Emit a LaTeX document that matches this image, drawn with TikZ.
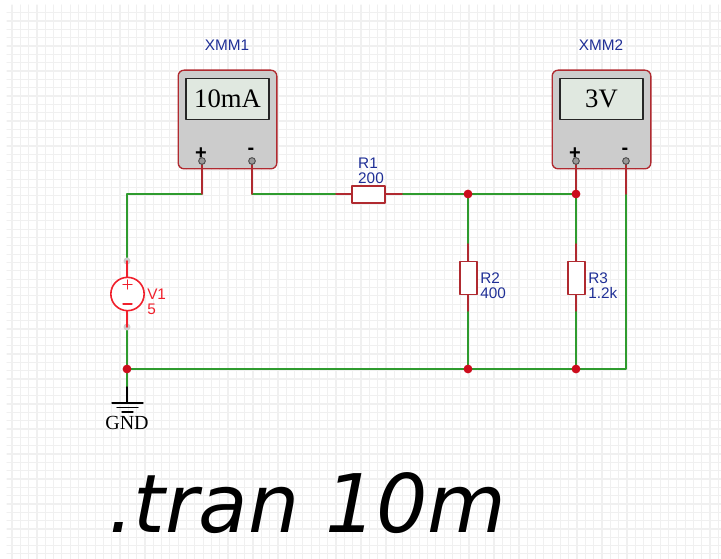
\documentclass[tikz,border=0pt]{standalone}
\usepackage{fontspec}
\setmainfont{Liberation Serif}
\setsansfont{Liberation Sans}
\newfontfamily\tranfont{DejaVu Sans}
\definecolor{wiregreen}{HTML}{2E9B2E}
\definecolor{partred}{HTML}{B02A30}
\definecolor{dotred}{HTML}{CC0C1C}
\definecolor{labelblue}{HTML}{1F2F96}
\definecolor{srcred}{HTML}{F0202C}
\definecolor{gridgray}{HTML}{F0F0F0}
\definecolor{screenfill}{HTML}{E0E8E0}
\tikzset{
	wire/.style={draw=wiregreen, line width=1.5pt*0.75},
	lead/.style={draw=partred, line width=1.5pt*0.75},
	meterbox/.style={draw=partred, fill=black!20, rounded corners=4.5pt, line width=1pt, minimum width=74pt, minimum height=74pt, inner sep=0pt},
	meterscreen/.style={draw=black!85, fill=screenfill, line width=1.2pt, minimum width=62.5pt, minimum height=31pt, inner sep=0pt, font=\rmfamily\fontsize{20}{20}\selectfont},
	resbox/.style={draw=partred, fill=white, line width=1.2pt, inner sep=0pt},
	namelabel/.style={text=labelblue, font=\sffamily\fontsize{11.5}{11.2}\selectfont, inner sep=0pt, align=left},
	termhole/.style={circle, draw=black!70, fill=black!40, line width=0.7pt, minimum size=5pt, inner sep=0pt},
	sign/.style={inner sep=0pt, font=\sffamily\bfseries\fontsize{15}{15}\selectfont}
}
\begin{document}
\begin{tikzpicture}[x=0.75pt, y=-0.75pt, line join=round, line cap=round]
	\useasboundingbox (0,0) rectangle (721,559);
	% grid
	\foreach \i in {0,...,85}{\draw[gridgray, line width=0.9pt](12+8.31*\i,5)--(12+8.31*\i,559);}
	\foreach \i in {0,...,65}{\draw[gridgray, line width=0.9pt](7,12.7+8.326*\i)--(721,12.7+8.326*\i);}
	\path
	(127,194) coordinate (TL)
	(202,194) coordinate (P1)
	(252,194) coordinate (M1)
	(336,194) coordinate (R1a)
	(402,194) coordinate (R1b)
	(468,194) coordinate (J1)
	(576,194) coordinate (J2)
	(626,194) coordinate (M2)
	(202,161) coordinate (T1)
	(252,161) coordinate (T2)
	(576,161) coordinate (T3)
	(626,161) coordinate (T4)
	(468,244) coordinate (R2a)
	(468,311) coordinate (R2b)
	(576,244) coordinate (R3a)
	(576,311) coordinate (R3b)
	(127,261) coordinate (V1a)
	(127,327) coordinate (V1b)
	(127,369) coordinate (B0)
	(468,369) coordinate (B1)
	(576,369) coordinate (B2)
	(626,369) coordinate (B3)
	(127,387) coordinate (G0)
	(127,403) coordinate (G1)
	(112,403) coordinate (G1l)
	(143,403) coordinate (G1r)
	(117,407.5) coordinate (G2l)
	(138,407.5) coordinate (G2r)
	(122,412) coordinate (G3l)
	(133,412) coordinate (G3r);
	% meters
	\node[meterbox] (XMM1) at (227.5,119.5) {};
	\node[meterbox] (XMM2) at (601.5,119.5) {};
	\node[meterscreen] (S1) at (227.5,99) {10mA};
	\node[meterscreen] (S2) at (601.5,99) {3V};
	\node[namelabel] (L1) at (227,45) {XMM1};
	\node[namelabel] (L2) at (601,45) {XMM2};
	\node[sign] (P1s) at (201,154) {+};
	\node[sign] (M1s) at (251,151) {-};
	\node[sign] (P2s) at (575,154) {+};
	\node[sign] (M2s) at (625,151) {-};
	% wires
	\draw[wire](T1)--(P1)--(TL)--(V1a);
	\draw[wire](M1)--(R1a);
	\draw[wire](R1b)--(J2)--(R3a);
	\draw[wire](J1)--(R2a);
	\draw[wire](R2b)--(B1);
	\draw[wire](R3b)--(B2);
	\draw[wire](V1b)--(B0)--(B3)--(M2);
	\draw[wire](B0)--(G0);
	% red leads of the parts
	\draw[lead](T1)--(P1);
	\draw[lead](T2)--(M1);
	\draw[lead](T3)--(J2);
	\draw[lead](T4)--(M2);
	\draw[lead](R1a)--(R1b);
	\draw[lead](R2a)--(R2b);
	\draw[lead](R3a)--(R3b);
	\node[termhole] (H1) at (T1) {};
	\node[termhole] (H2) at (T2) {};
	\node[termhole] (H3) at (T3) {};
	\node[termhole] (H4) at (T4) {};
	% resistors
	\node[resbox, minimum width=25pt, minimum height=12.5pt] (R1) at (368.5,194.5) {};
	\node[resbox, minimum width=12.5pt, minimum height=25pt] (R2) at (468.5,278) {};
	\node[resbox, minimum width=12.5pt, minimum height=25pt] (R3) at (576.5,278) {};
	\node[namelabel, anchor=south] (R1t) at (371,184) {R1\\200};
	\node[namelabel, anchor=west] (R2t) at (480,286) {R2\\400};
	\node[namelabel, anchor=west] (R3t) at (588,286) {R3\\1.2k};
	% source
	\foreach \i in {V1a,V1b}{\fill[black!20](\i) circle (3.5);}
	\draw[srcred, line width=1.2pt](V1a)--(V1b);
	\node[circle, draw=srcred, fill=white, line width=1.2pt, minimum size=25pt, inner sep=0pt] (V1) at (127.5,294) {};
	\draw[srcred, line width=1pt](123,284.5)--(132,284.5);
	\draw[srcred, line width=1pt](127.5,280)--(127.5,289);
	\draw[srcred, line width=1pt](123,304)--(132,304);
	\node[text=srcred, anchor=west, inner sep=0pt, align=left, font=\sffamily\fontsize{11.5}{11.5}\selectfont] (V1t) at (147,302) {V1\\5};
	% dots
	\foreach \i in {J1,J2,B0,B1,B2}{\fill[dotred](\i) circle (4.4);}
	% ground
	\draw[black, line width=1pt](G0)--(G1);
	\draw[black, line width=1pt](G1l)--(G1r);
	\draw[black, line width=1pt](G2l)--(G2r);
	\draw[black, line width=1pt](G3l)--(G3r);
	\node[inner sep=0pt, font=\rmfamily\fontsize{15}{15}\selectfont] (GND) at (127,423) {GND};
	% directive
	\node[anchor=base west, inner sep=0pt, font=\tranfont\itshape\fontsize{60.6}{60.6}\selectfont] (TRAN) at (108,532) {.tran 10m};
\end{tikzpicture}
\end{document}
